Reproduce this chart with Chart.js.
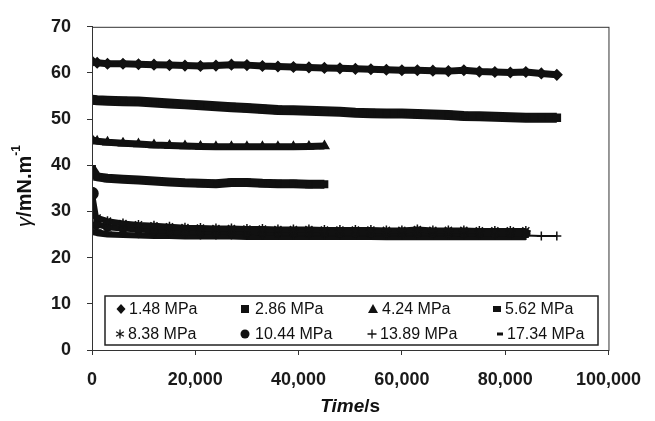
<!DOCTYPE html>
<html>
<head>
<meta charset="utf-8">
<script src="https://cdn.jsdelivr.net/npm/chart.js@4.4.1/dist/chart.umd.min.js"></script>
<style>
  html, body { margin: 0; padding: 0; background: #fff; }
  #wrap { width: 655px; height: 421px; position: relative; }
</style>
</head>
<body>
<div id="wrap"><canvas id="tensionChart"></canvas></div>
<script>
// time points (s)
const times = [0, 1000, 3000, 6000, 9000, 12000, 15000, 18000, 21000, 24000, 27000, 30000,
  33000, 36000, 39000, 42000, 45000, 48000, 51000, 54000, 57000, 60000, 63000, 66000,
  69000, 72000, 75000, 78000, 81000, 84000, 87000, 90000];

// surface tension, mN/m, one array per pressure
const p148 = [62.5, 62.2, 62.0, 62.0, 61.9, 61.8, 61.7, 61.6, 61.5, 61.6, 61.8, 61.7,
  61.5, 61.4, 61.3, 61.2, 61.1, 61.0, 60.9, 60.8, 60.7, 60.6, 60.6, 60.5,
  60.4, 60.6, 60.3, 60.2, 60.1, 60.2, 59.9, 59.6];
const p286 = [54.2, 54.1, 54.0, 53.9, 53.8, 53.6, 53.4, 53.2, 53.0, 52.8, 52.6, 52.4,
  52.2, 52.0, 51.9, 51.8, 51.7, 51.6, 51.4, 51.3, 51.2, 51.2, 51.1, 51.0,
  50.9, 50.7, 50.6, 50.5, 50.4, 50.3, 50.3, 50.3];
const p424 = [45.6, 45.2, 45.0, 44.8, 44.6, 44.4, 44.3, 44.2, 44.1, 44.0, 44.0, 44.0,
  44.0, 44.0, 44.0, 44.1, 44.2, null, null, null, null, null, null, null,
  null, null, null, null, null, null, null, null];
const p562 = [39.2, 37.5, 37.2, 37.0, 36.8, 36.6, 36.4, 36.2, 36.1, 36.0, 36.3, 36.3,
  36.1, 36.0, 36.0, 35.9, 35.9, null, null, null, null, null, null, null,
  null, null, null, null, null, null, null, null];
const p838 = [29.8, 28.6, 27.9, 27.4, 27.1, 26.9, 26.7, 26.5, 26.4, 26.3, 26.3, 26.2,
  26.2, 26.1, 26.1, 26.1, 26.0, 26.0, 26.0, 26.0, 25.9, 25.9, 26.1, 25.9,
  25.9, 25.9, 25.8, 25.8, 25.8, 25.8, null, null];
const p1044 = [33.9, 27.2, 26.6, 26.3, 26.1, 25.9, 25.8, 25.7, 25.7, 25.6, 25.6, 25.6,
  25.5, 25.5, 25.5, 25.5, 25.5, 25.4, 25.4, 25.4, 25.4, 25.5, 25.4, 25.4,
  25.4, 25.3, 25.3, 25.3, 25.3, 25.3, null, null];
const p1389 = [26.6, 26.0, 25.5, 25.3, 25.2, 25.1, 25.0, 25.0, 24.9, 24.9, 24.9, 24.9,
  24.9, 24.9, 24.8, 24.8, 24.8, 24.8, 24.8, 24.8, 24.8, 24.8, 24.8, 24.8,
  24.8, 24.8, 24.8, 24.8, 24.8, 24.8, 24.7, 24.7];
const p1734 = [25.6, 25.3, 25.0, 24.9, 24.8, 24.7, 24.7, 24.6, 24.6, 24.6, 24.6, 24.5,
  24.5, 24.5, 24.5, 24.5, 24.5, 24.5, 24.5, 24.5, 24.4, 24.4, 24.4, 24.4,
  24.4, 24.4, 24.4, 24.4, 24.4, 24.4, null, null];

const seriesLabels = ["1.48 MPa", "2.86 MPa", "4.24 MPa", "5.62 MPa",
  "8.38 MPa", "10.44 MPa", "13.89 MPa", "17.34 MPa"];
const xTicks = [0, 20000, 40000, 60000, 80000, 100000];
const yTicks = [0, 10, 20, 30, 40, 50, 60, 70];

const INK = "#111";
const FONT = "'Liberation Sans', Arial, sans-serif";

function pts(arr) {
  return times.map((t, i) => ({ x: t, y: arr[i] })).filter(p => p.y !== null);
}

function makeSet(label, arr, style, lineW, radius) {
  return {
    label: label,
    data: pts(arr),
    borderColor: INK,
    backgroundColor: INK,
    borderWidth: lineW,
    borderJoinStyle: "round",
    pointStyle: style,
    pointRadius: radius,
    pointBorderWidth: 1.5,
    pointBorderColor: INK,
    pointBackgroundColor: INK,
    tension: 0
  };
}

const datasets = [
  makeSet(seriesLabels[0], p148, "rectRot", 7, 5),
  makeSet(seriesLabels[1], p286, "rect", 10, 5),
  makeSet(seriesLabels[2], p424, "triangle", 7, 5),
  makeSet(seriesLabels[3], p562, "rect", 9, 4.5),
  makeSet(seriesLabels[4], p838, "star", 6, 5),
  makeSet(seriesLabels[5], p1044, "circle", 6, ctx => ctx.dataIndex === 0 ? 6 : 4),
  makeSet(seriesLabels[6], p1389, "cross", 2, 4.5),
  makeSet(seriesLabels[7], p1734, "line", 6, 3)
];

// small marker drawer for the legend box
function marker(ctx, style, x, y) {
  ctx.save();
  ctx.fillStyle = INK;
  ctx.strokeStyle = INK;
  ctx.lineWidth = 1.3;
  ctx.beginPath();
  if (style === "rectRot") {
    ctx.moveTo(x, y - 5); ctx.lineTo(x + 4.5, y); ctx.lineTo(x, y + 5); ctx.lineTo(x - 4.5, y);
    ctx.closePath(); ctx.fill();
  } else if (style === "rect") {
    ctx.fillRect(x - 4, y - 4, 8, 8);
  } else if (style === "rectSmall") {
    ctx.fillRect(x - 4, y - 3, 8, 6);
  } else if (style === "triangle") {
    ctx.moveTo(x, y - 5); ctx.lineTo(x + 5, y + 4); ctx.lineTo(x - 5, y + 4);
    ctx.closePath(); ctx.fill();
  } else if (style === "star") {
    for (let a = 0; a < 3; a++) {
      const ang = Math.PI / 2 + a * Math.PI / 3;
      ctx.moveTo(x - 4.5 * Math.cos(ang), y - 4.5 * Math.sin(ang));
      ctx.lineTo(x + 4.5 * Math.cos(ang), y + 4.5 * Math.sin(ang));
    }
    ctx.stroke();
  } else if (style === "circle") {
    ctx.arc(x, y, 4.5, 0, Math.PI * 2); ctx.fill();
  } else if (style === "cross") {
    ctx.moveTo(x - 4.5, y); ctx.lineTo(x + 4.5, y);
    ctx.moveTo(x, y - 4.5); ctx.lineTo(x, y + 4.5);
    ctx.stroke();
  } else if (style === "line") {
    ctx.fillRect(x - 3, y - 1.5, 6, 3);
  }
  ctx.restore();
}

const framePlugin = {
  id: "frame",
  afterDraw(chart) {
    const ctx = chart.ctx;
    const a = chart.chartArea;
    ctx.save();
    ctx.strokeStyle = "#333";
    ctx.lineWidth = 1;
    ctx.strokeRect(a.left + 0.5, a.top + 0.5, a.right - a.left, a.bottom - a.top);

    // legend box inside the plot
    ctx.fillStyle = "#fff";
    ctx.fillRect(105, 296, 493, 49);
    ctx.lineWidth = 1.5;
    ctx.strokeStyle = "#222";
    ctx.strokeRect(105, 296, 493, 49);
    const styles = ["rectRot", "rect", "triangle", "rectSmall", "star", "circle", "cross", "line"];
    const mx = [121, 245, 373, 497, 120, 245, 372, 500];
    const tx = [129, 255, 382, 505, 128, 255, 380, 507];
    ctx.font = "16px " + FONT;
    ctx.fillStyle = INK;
    ctx.textBaseline = "middle";
    ctx.textAlign = "left";
    for (let i = 0; i < 8; i++) {
      const y = i < 4 ? 309 : 334;
      marker(ctx, styles[i], mx[i], y);
      ctx.fillStyle = INK;
      ctx.fillText(seriesLabels[i], tx[i], y + 1);
    }

    // x title: Time/s
    ctx.textBaseline = "middle";
    ctx.font = "italic bold 19px " + FONT;
    const w1 = ctx.measureText("Time").width;
    ctx.font = "bold 19px " + FONT;
    const w2 = ctx.measureText("/s").width;
    let sx = (a.left + a.right) / 2 - (w1 + w2) / 2;
    ctx.font = "italic bold 19px " + FONT;
    ctx.fillText("Time", sx, 407);
    ctx.font = "bold 19px " + FONT;
    ctx.fillText("/s", sx + w1, 407);

    // y title: γ/mN.m-1
    ctx.translate(25, 186);
    ctx.rotate(-Math.PI / 2);
    ctx.font = "italic 20px " + FONT;
    const g = ctx.measureText("γ").width;
    ctx.font = "bold 20px " + FONT;
    const u = ctx.measureText("/mN.m").width;
    ctx.font = "bold 12px " + FONT;
    const s = ctx.measureText("-1").width;
    let px = -(g + u + s) / 2;
    ctx.font = "italic 20px " + FONT;
    ctx.fillText("γ", px, 0);
    ctx.font = "bold 20px " + FONT;
    ctx.fillText("/mN.m", px + g, 0);
    ctx.font = "bold 12px " + FONT;
    ctx.fillText("-1", px + g + u, -8);
    ctx.restore();
  }
};

new Chart(document.getElementById("tensionChart"), {
  type: "line",
  data: { datasets: datasets },
  options: {
    responsive: true,
    maintainAspectRatio: false,
    animation: false,
    layout: { padding: { left: 0, right: 42, top: 23, bottom: 0 } },
    plugins: {
      legend: { display: false },
      tooltip: { enabled: false }
    },
    scales: {
      x: {
        type: "linear",
        min: 0,
        max: 100000,
        afterFit: s => { s.height = 71; },
        afterBuildTicks: s => { s.ticks = xTicks.map(v => ({ value: v })); },
        grid: { drawOnChartArea: false, drawTicks: true, tickLength: 5, color: "#333" },
        border: { display: true, color: "#333", width: 1 },
        ticks: {
          padding: 14,
          color: "#1a1a1a",
          font: { family: FONT, size: 18, weight: "bold" },
          callback: v => v.toLocaleString("en-US")
        }
      },
      y: {
        min: 0,
        max: 70,
        afterFit: s => { s.width = 92; },
        afterBuildTicks: s => { s.ticks = yTicks.map(v => ({ value: v })); },
        grid: { drawOnChartArea: false, drawTicks: true, tickLength: 5, color: "#333" },
        border: { display: true, color: "#333", width: 1 },
        ticks: {
          padding: 16,
          color: "#1a1a1a",
          font: { family: FONT, size: 18, weight: "bold" }
        }
      }
    }
  },
  plugins: [framePlugin]
});
</script>
</body>
</html>
